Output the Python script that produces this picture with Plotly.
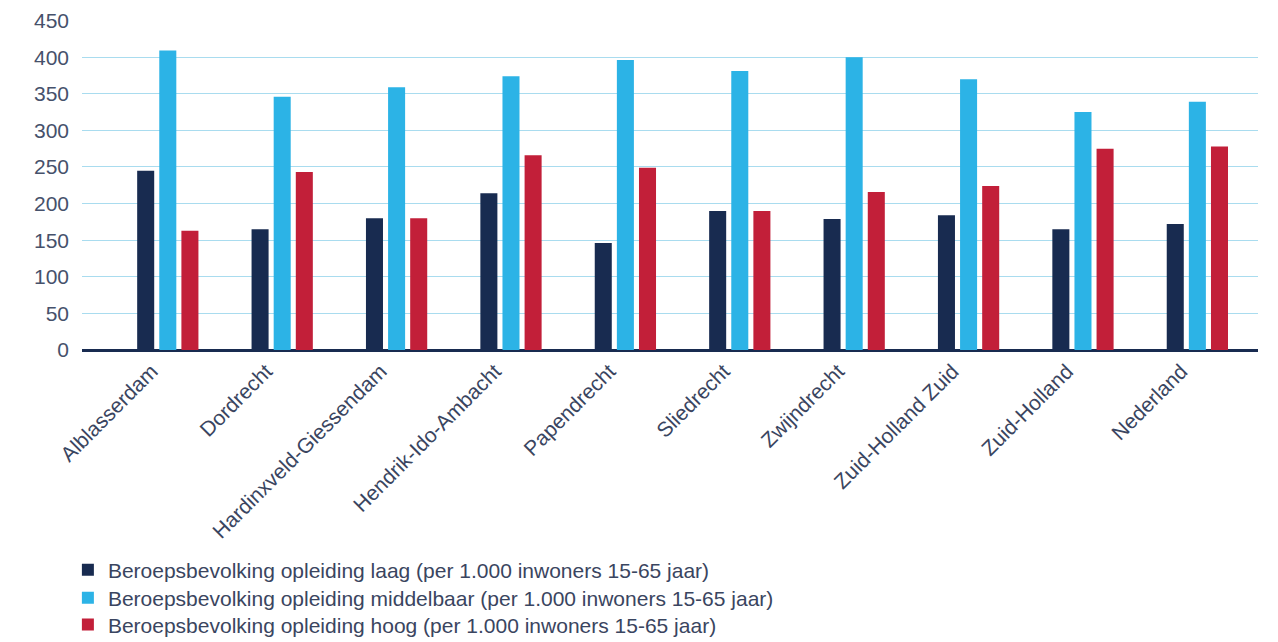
import plotly.graph_objects as go

categories = ["Alblasserdam", "Dordrecht", "Hardinxveld-Giessendam", "Hendrik-Ido-Ambacht",
              "Papendrecht", "Sliedrecht", "Zwijndrecht", "Zuid-Holland Zuid", "Zuid-Holland", "Nederland"]
laag = [245, 165, 180, 214, 146, 190, 179, 184, 165, 172]
middelbaar = [409, 346, 359, 374, 396, 381, 400, 370, 325, 339]
hoog = [163, 243, 180, 266, 249, 190, 216, 224, 275, 278]
names = ["Beroepsbevolking opleiding laag (per 1.000 inwoners 15-65 jaar)",
         "Beroepsbevolking opleiding middelbaar (per 1.000 inwoners 15-65 jaar)",
         "Beroepsbevolking opleiding hoog (per 1.000 inwoners 15-65 jaar)"]
colors = ["#182b50", "#2cb3e6", "#c21f39"]
legend_ids = ["legend", "legend2", "legend3"]
legend_y = [-0.667, -0.752, -0.833]

fig = go.Figure()
for vals, nm, c, lg in zip([laag, middelbaar, hoog], names, colors, legend_ids):
    fig.add_trace(go.Bar(x=list(range(len(categories))), y=vals, name=nm, marker_color=c,
                         marker_line_width=0, legend=lg))

legend_common = dict(x=-0.012, xanchor="left", yanchor="middle", orientation="v",
                     font=dict(size=21, color="#3a4560"), itemwidth=30,
                     bgcolor="rgba(0,0,0,0)")

fig.update_layout(
    width=1270, height=634,
    margin=dict(l=74, r=20, t=12, b=292, autoexpand=False),
    paper_bgcolor="white", plot_bgcolor="white",
    barmode="group", bargap=0.42, bargroupgap=0.23,
    font=dict(family="Liberation Sans, Arial, sans-serif", size=21, color="#46516b"),
    showlegend=True,
    legend=dict(y=legend_y[0], **legend_common),
    legend2=dict(y=legend_y[1], **legend_common),
    legend3=dict(y=legend_y[2], **legend_common),
    xaxis=dict(tickmode="array", tickvals=list(range(len(categories))), ticktext=categories,
               tickangle=-45, range=[-0.75, 9.53], showgrid=False, zeroline=False,
               showline=False, ticks="", automargin=False,
               ticklabelshift=-16, ticklabelstandoff=4,
               tickfont=dict(size=21, color="#3a4560")),
    yaxis=dict(range=[0, 450.8], tickmode="array", tickvals=[0, 50, 100, 150, 200, 250, 300, 350, 400, 450],
               showgrid=True, gridcolor="#a9dcef", gridwidth=1,
               zeroline=True, zerolinecolor="#182b50", zerolinewidth=3,
               showline=False, ticks="", automargin=False, ticklabeloverflow="allow",
               tickfont=dict(size=21, color="#46516b"), ticklabelstandoff=12),
)

fig.write_html("out.html")
